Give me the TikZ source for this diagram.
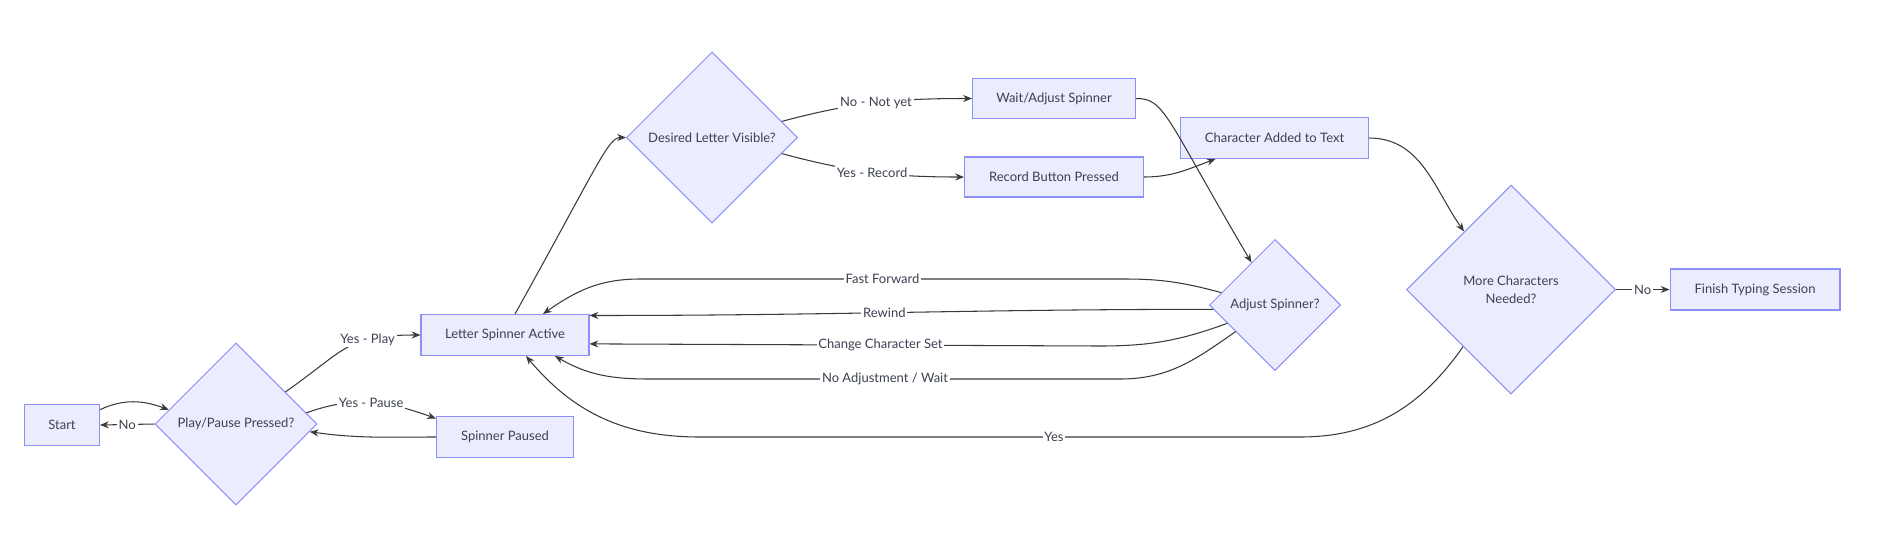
\documentclass[tikz,border=0pt]{standalone}
\usepackage{fontspec}
\setmainfont{Lato}
\usetikzlibrary{shapes.geometric,arrows.meta}
\definecolor{boxfill}{HTML}{ECECFF}
\definecolor{boxline}{HTML}{8A90F5}
\definecolor{textgray}{HTML}{3B4150}
\definecolor{linegray}{HTML}{3A3A3A}
\tikzset{>={Stealth[length=5pt,width=4pt]}}
\tikzset{
  proc/.style={draw=boxline, fill=boxfill, line width=0.6pt, minimum height=0.82cm,
    inner sep=0pt, text=textgray, font=\fontsize{7.4}{9}\selectfont},
  ask/.style={diamond, draw=boxline, fill=boxfill, line width=0.6pt, inner sep=0pt,
    align=center, text=textgray, font=\fontsize{7.4}{10.5}\selectfont},
  flow/.style={->, draw=linegray, line width=0.6pt},
  tag/.style={fill=white, inner sep=1pt, text=textgray, font=\fontsize{7.4}{9}\selectfont}
}

\begin{document}
\begin{tikzpicture}[x=0.02cm, y=-0.02cm]
\useasboundingbox (0,0) rectangle (1881,559);
% nodes
\node[proc, minimum width=1.5cm] (start) at (62,425) {Start};
\node[ask, minimum size=3.24cm] (play) at (236,424) {Play/Pause Pressed?};
\node[proc, minimum width=2.74cm] (paused) at (505,437) {Spinner Paused};
\node[proc, minimum width=3.36cm] (active) at (505,335) {Letter Spinner Active};
\node[ask, minimum size=3.42cm] (visible) at (712,137.5) {Desired Letter Visible?};
\node[proc, minimum width=3.26cm, minimum height=0.8cm] (wait) at (1054,98.5) {Wait/Adjust Spinner};
\node[proc, minimum width=3.58cm, minimum height=0.8cm] (record) at (1054,177) {Record Button Pressed};
\node[proc, minimum width=3.76cm] (added) at (1274.5,138) {Character Added to Text};
\node[ask, minimum size=2.62cm] (adjust) at (1275,305) {Adjust Spinner?};
\node[ask, minimum size=4.18cm] (more) at (1511,289.5) {More Characters\\Needed?};
\node[proc, minimum width=3.4cm] (finish) at (1755,289.5) {Finish Typing Session};
% start and pause
\draw[flow] (start.22) to[out=25,in=160] (play.168);
\draw[flow] (play.west) -- node[tag]{No} (start.east);
\draw[flow] (play.33) to[out=35,in=180,looseness=1.3] node[tag,pos=0.68]{Yes - Play} (active.west);
\draw[flow] (play.9) to[out=20,in=160] node[tag]{Yes - Pause} (paused.165);
\draw[flow] (paused.west) to[out=180,in=-8] (play.-6);
% letter choice
\draw[flow] ([xshift=0.2cm]active.north) .. controls (598,165) and (608,137.5) .. (visible.west);
\draw[flow] (visible.13) to[out=15,in=180] node[tag]{No - Not yet} (wait.west);
\draw[flow] (visible.-13) to[out=-15,in=180] node[tag]{Yes - Record} (record.west);
\draw[flow] (wait.east) .. controls (1165,98.5) and (1165,116) .. (adjust.119);
\draw[flow] (record.east) to[out=0,in=-160] ([xshift=-1.18cm]added.south);
\draw[flow] (added.east) to[out=0,in=125] (more.129);
\draw[flow] (more.east) -- node[tag]{No} (finish.west);
% back to the spinner
\draw[flow] (adjust.167) to[out=165,in=0] (1125,279) -- node[tag]{Fast Forward} (640,279)
  to[out=180,in=35] ([xshift=0.76cm]active.north);
\draw[flow] (adjust.184) to[out=180,in=0] node[tag,pos=0.53]{Rewind} (active.13);
\draw[flow] (adjust.201) to[out=200,in=0] (1100,346) -- node[tag,pos=0.43]{Change Character Set} (active.-6);
\draw[flow] (adjust.214) to[out=215,in=0] (1120,379) -- node[tag]{No Adjustment / Wait} (650,379)
  to[out=180,in=-30] ([xshift=1cm]active.south);
\draw[flow] (more.230) to[out=235,in=0] (1300,437) -- node[tag,pos=0.41]{Yes} (700,437)
  to[out=180,in=-50] ([xshift=0.42cm]active.south);
\end{tikzpicture}
\end{document}
